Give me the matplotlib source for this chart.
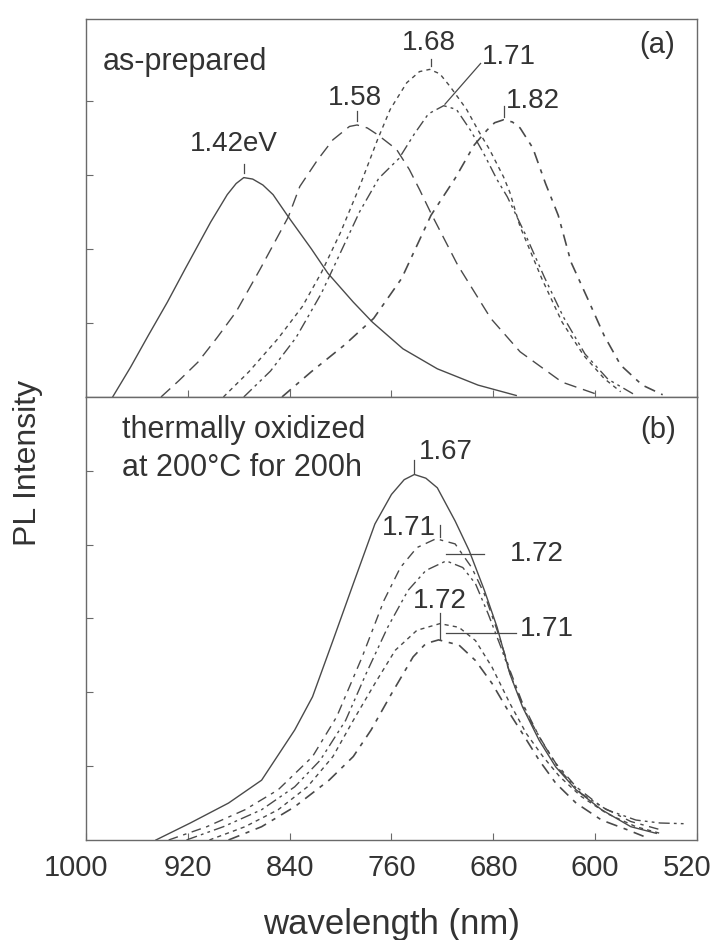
import matplotlib
matplotlib.use("Agg")
import matplotlib.pyplot as plt
import matplotlib.transforms as mtransforms

plt.rcParams["font.family"] = ["Liberation Sans", "DejaVu Sans"]

# ---- (a) as-prepared : wavelength (nm) / PL intensity (arb.)
wl_a142 = [979, 965, 951, 936, 922, 902, 889, 882, 876, 869, 861, 853, 841, 823, 810, 790, 775, 751, 724, 692, 662]
pl_a142 = [0, 0.40, 0.83, 1.28, 1.73, 2.36, 2.73, 2.88, 2.96, 2.94, 2.86, 2.73, 2.43, 2.00, 1.67, 1.28, 1.01, 0.65, 0.38, 0.16, 0.02]

wl_a158 = [941, 927, 912, 897, 882, 863, 841, 832, 818, 806, 793, 787, 779, 771, 756, 746, 738, 729, 708, 682, 659, 626, 596]
pl_a158 = [0, 0.22, 0.47, 0.80, 1.15, 1.73, 2.43, 2.84, 3.20, 3.47, 3.65, 3.67, 3.63, 3.54, 3.34, 3.07, 2.80, 2.48, 1.78, 1.06, 0.61, 0.20, 0.02]

wl_a168 = [892, 872, 849, 830, 815, 800, 785, 771, 761, 748, 738, 730, 722, 714, 701, 691, 683, 672, 667, 659, 642, 626, 609, 593, 580]
pl_a168 = [0, 0.34, 0.79, 1.22, 1.68, 2.22, 2.84, 3.47, 3.88, 4.24, 4.39, 4.42, 4.36, 4.19, 3.88, 3.57, 3.34, 2.97, 2.76, 2.30, 1.60, 1.01, 0.56, 0.25, 0.07]

wl_a171 = [876, 855, 835, 815, 800, 785, 770, 754, 742, 731, 719, 709, 698, 688, 677, 669, 655, 640, 625, 608, 590, 570]
pl_a171 = [0, 0.35, 0.80, 1.40, 1.95, 2.50, 2.95, 3.22, 3.55, 3.82, 3.93, 3.88, 3.60, 3.30, 2.93, 2.70, 2.20, 1.62, 1.08, 0.58, 0.24, 0.04]

wl_a182 = [846, 823, 797, 774, 752, 729, 710, 695, 685, 679, 672, 665, 659, 649, 639, 629, 619, 606, 593, 580, 563, 547]
pl_a182 = [0, 0.34, 0.70, 1.06, 1.60, 2.45, 2.95, 3.40, 3.60, 3.70, 3.74, 3.71, 3.63, 3.36, 2.88, 2.45, 1.82, 1.33, 0.83, 0.43, 0.16, 0.03]

# ---- (b) thermally oxidized at 200 C for 200h
wl_b167 = [945, 918, 888, 862, 836, 822, 806, 790, 773, 760, 750, 742, 733, 724, 710, 699, 687, 677, 667, 657, 644, 631, 615, 595, 572, 552]
pl_b167 = [0, 0.23, 0.50, 0.81, 1.49, 1.94, 2.70, 3.47, 4.28, 4.68, 4.88, 4.95, 4.90, 4.77, 4.32, 3.92, 3.38, 2.88, 2.25, 1.80, 1.35, 0.99, 0.68, 0.41, 0.18, 0.09]

wl_b171 = [935, 905, 875, 849, 822, 803, 783, 766, 753, 740, 725, 710, 697, 687, 677, 667, 657, 644, 631, 615, 595, 572, 549]
pl_b171 = [0, 0.18, 0.41, 0.68, 1.13, 1.67, 2.48, 3.24, 3.69, 3.96, 4.08, 4.01, 3.69, 3.33, 2.84, 2.30, 1.85, 1.40, 1.04, 0.72, 0.45, 0.25, 0.14]

wl_b172 = [921, 892, 862, 836, 816, 796, 780, 763, 747, 733, 717, 704, 694, 684, 674, 664, 654, 641, 628, 611, 591, 568, 549, 529]
pl_b172 = [0, 0.18, 0.41, 0.72, 1.08, 1.62, 2.25, 2.88, 3.38, 3.65, 3.78, 3.69, 3.47, 3.06, 2.61, 2.12, 1.71, 1.31, 0.95, 0.63, 0.41, 0.27, 0.23, 0.22]

wl_b172l = [903, 875, 849, 826, 806, 790, 773, 757, 740, 722, 707, 694, 681, 667, 654, 641, 628, 611, 591, 568, 549]
pl_b172l = [0, 0.18, 0.41, 0.72, 1.13, 1.62, 2.12, 2.57, 2.84, 2.93, 2.88, 2.70, 2.34, 1.85, 1.44, 1.13, 0.86, 0.59, 0.36, 0.18, 0.09]

wl_b171l = [888, 862, 836, 809, 790, 776, 760, 743, 733, 723, 707, 694, 681, 667, 657, 644, 631, 615, 595, 575, 562]
pl_b171l = [0, 0.18, 0.45, 0.81, 1.13, 1.49, 1.98, 2.48, 2.66, 2.71, 2.64, 2.43, 2.12, 1.71, 1.44, 1.08, 0.77, 0.50, 0.27, 0.14, 0.05]

x_ticks = [1000, 920, 840, 760, 680, 600, 520]

ink = "#4a4a4a"
txt = "#333333"
frame = "#6a6a6a"

fig = plt.figure(figsize=(7.16, 9.40), dpi=100)
ax_a = fig.add_axes([0.120, 0.5777, 0.8535, 0.4021])
ax_b = fig.add_axes([0.120, 0.1064, 0.8535, 0.4713])

styles = {
    "solid": dict(linestyle="-"),
    "dash": dict(dashes=(9, 5)),
    "dot": dict(dashes=(3, 3)),
    "dashdotdot": dict(dashes=(8, 3, 2, 3, 2, 3)),
    "dashdot": dict(dashes=(7, 4, 2.5, 4)),
}

ax_a.plot(wl_a142, pl_a142, color=ink, lw=1.0, **styles["solid"])
ax_a.plot(wl_a158, pl_a158, color=ink, lw=1.0, **styles["dash"])
ax_a.plot(wl_a168, pl_a168, color=ink, lw=1.0, **styles["dot"])
ax_a.plot(wl_a171, pl_a171, color=ink, lw=1.0, **styles["dashdotdot"])
ax_a.plot(wl_a182, pl_a182, color=ink, lw=1.2, **styles["dashdot"])

ax_b.plot(wl_b167, pl_b167, color=ink, lw=1.0, **styles["solid"])
ax_b.plot(wl_b171, pl_b171, color=ink, lw=1.0, **styles["dashdot"])
ax_b.plot(wl_b172, pl_b172, color=ink, lw=1.0, **styles["dashdotdot"])
ax_b.plot(wl_b172l, pl_b172l, color=ink, lw=1.0, **styles["dot"])
ax_b.plot(wl_b171l, pl_b171l, color=ink, lw=1.2, **styles["dashdot"])

# peak labels with little leader lines
lab = dict(color=txt, fontsize=20, ha="center", va="center")
lead = dict(color=ink, lw=0.9)

ax_a.plot([876, 876], [3.02, 3.14], **lead)
ax_a.text(884, 3.41, "1.42eV", **lab)
ax_a.plot([787, 787], [3.72, 3.86], **lead)
ax_a.text(789, 4.04, "1.58", **lab)
ax_a.plot([729, 729], [4.46, 4.56], **lead)
ax_a.text(731, 4.77, "1.68", **lab)
ax_a.plot([718, 690], [3.95, 4.50], **lead)
ax_a.text(668, 4.59, "1.71", **lab)
ax_a.plot([672, 672], [3.78, 3.92], **lead)
ax_a.text(649, 3.99, "1.82", **lab)

ax_b.plot([742, 742], [4.97, 5.15], **lead)
ax_b.text(717, 5.25, "1.67", **lab)
ax_b.plot([722, 722], [4.10, 4.27], **lead)
ax_b.text(746, 4.23, "1.71", **lab)
ax_b.plot([717, 687], [3.87, 3.87], **lead)
ax_b.text(646, 3.87, "1.72", **lab)
ax_b.plot([722, 722], [2.72, 3.08], **lead)
ax_b.text(722, 3.24, "1.72", **lab)
ax_b.plot([717, 662], [2.80, 2.80], **lead)
ax_b.text(638, 2.86, "1.71", **lab)

ax_a.text(0.028, 0.886, "as-prepared", transform=ax_a.transAxes, color=txt,
          fontsize=22, ha="left", va="center")
ax_a.text(0.934, 0.931, "(a)", transform=ax_a.transAxes, color=txt,
          fontsize=21, ha="center", va="center")
ax_b.text(0.059, 0.925, "thermally oxidized", transform=ax_b.transAxes, color=txt,
          fontsize=22, ha="left", va="center")
ax_b.text(0.059, 0.840, "at 200\u00b0C for 200h", transform=ax_b.transAxes, color=txt,
          fontsize=22, ha="left", va="center")
ax_b.text(0.937, 0.925, "(b)", transform=ax_b.transAxes, color=txt,
          fontsize=21, ha="center", va="center")

for ax in (ax_a, ax_b):
    ax.set_xlim(1000, 520)
    ax.set_xticks(x_ticks)
    ax.tick_params(direction="in", length=5, width=0.8, color=frame,
                   labelsize=21, labelcolor=txt, pad=10, labelleft=False)
    for s in ax.spines.values():
        s.set_color(frame)
        s.set_linewidth(1.0)

ax_a.set_ylim(0, 5.1)
ax_a.set_yticks([1, 2, 3, 4])
ax_b.set_ylim(0, 6.0)
ax_b.set_yticks([1, 2, 3, 4, 5])
ax_a.tick_params(labelbottom=False)
ax_b.set_xticklabels([str(v) for v in x_ticks])

# the end labels sit a little left of their ticks in the original
labels = ax_b.get_xticklabels()
for lbl, dx in ((labels[0], -10), (labels[-1], -10)):
    lbl.set_transform(lbl.get_transform() +
                      mtransforms.ScaledTranslation(dx / 100, 0, fig.dpi_scale_trans))

ax_b.set_xlabel("wavelength (nm)", fontsize=25, color=txt, labelpad=19)
fig.text(0.039, 0.507, "PL Intensity", rotation=90, fontsize=23, color=txt,
         ha="center", va="center")

fig.savefig("out.png", dpi=100)
